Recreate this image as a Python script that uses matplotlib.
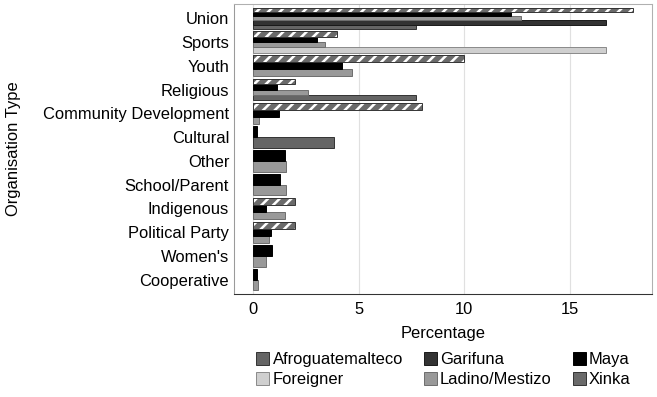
import matplotlib as mpl
import matplotlib.pyplot as plt

mpl.rcParams['font.family'] = ['Liberation Sans', 'DejaVu Sans']
mpl.rcParams['hatch.linewidth'] = 2.6

DPI = 70
FS = 17

categories = ['Union', 'Sports', 'Youth', 'Religious', 'Community Development',
              'Cultural', 'Other', 'School/Parent', 'Indigenous',
              'Political Party', "Women's", 'Cooperative']

# None = group absent for that organisation type
afroguatemalteco = [7.7, None, None, 7.7, None, 3.85, None, None, None, None, None, None]
foreigner = [None, 16.7, None, None, None, None, None, None, None, None, None, None]
garifuna = [16.7, None, None, None, None, None, None, None, None, None, None, None]
ladino = [12.7, 3.4, 4.7, 2.6, 0.3, None, 1.55, 1.55, 1.5, 0.75, 0.6, 0.25]
maya = [12.2, 3.05, 4.2, 1.15, 1.25, 0.2, 1.5, 1.3, 0.6, 0.85, 0.9, 0.2]
xinka = [18.0, 4.0, 10.0, 2.0, 8.0, None, None, None, 2.0, 2.0, None, None]

groups = ['Afroguatemalteco', 'Foreigner', 'Garifuna', 'Ladino/Mestizo', 'Maya', 'Xinka']
series = [afroguatemalteco, foreigner, garifuna, ladino, maya, xinka]
fills = ['#656565', '#cfcfcf', '#333333', '#999999', '#000000', '#6a6a6a']
edges = ['#333333', '#8a8a8a', '#1a1a1a', '#6e6e6e', '#000000', '#333333']

fig = plt.figure(figsize=(657 / DPI, 397 / DPI), dpi=DPI)
ax = fig.add_axes([234 / 657, 1 - 294 / 397, (652 - 234) / 657, 290 / 397])

n_cat = len(categories)
for i, cat in enumerate(categories):
    yc = n_cat - 1 - i
    present = [g for g in range(len(groups)) if series[g][i] is not None]
    w = 0.9 / len(present)
    for k, g in enumerate(present):
        y = yc - 0.45 + (k + 0.5) * w
        v = series[g][i]
        if groups[g] == 'Xinka':
            ax.barh(y, v, height=w, color=fills[g], edgecolor='white',
                    linewidth=0, hatch='//', zorder=2)
            ax.barh(y, v, height=w, fill=False, edgecolor=edges[g],
                    linewidth=1.0, zorder=3)
        else:
            ax.barh(y, v, height=w, color=fills[g], edgecolor=edges[g],
                    linewidth=1.0, zorder=2)

ax.set_xlim(-0.9, 18.9)
ax.set_ylim(-0.6, n_cat - 0.4)
ax.set_yticks(range(n_cat))
ax.set_yticklabels(categories[::-1])
ax.set_xticks([0, 5, 10, 15])
ax.tick_params(length=0, labelsize=FS, colors='black', pad=5)
ax.tick_params(axis='x', pad=8)
ax.grid(axis='x', color='#e0e0e0', linewidth=1.2, zorder=0)
ax.set_axisbelow(True)
ax.spines['left'].set_color('#9a9a9a')
ax.spines['bottom'].set_color('#333333')
ax.spines['top'].set_color('#b0b0b0')
ax.spines['right'].set_color('#b0b0b0')
for s in ax.spines.values():
    s.set_linewidth(1.1)

ax.set_xlabel('Percentage', fontsize=FS, labelpad=9)
ax.set_ylabel('Organisation Type', fontsize=FS)
ax.yaxis.set_label_coords(-0.51, 0.5)

handles = [mpl.patches.Patch(facecolor=fills[g], edgecolor=edges[g], linewidth=1.0)
           for g in range(len(groups))]
fig.legend(handles, groups, ncol=3, loc='upper left',
           bbox_to_anchor=(256 / 657, 1 - 352 / 397), frameon=False, fontsize=FS,
           handlelength=0.8, handleheight=0.8, handletextpad=0.2,
           columnspacing=1.25, labelspacing=0.3, borderaxespad=0, borderpad=0)

fig.savefig('out.png', dpi=DPI)
